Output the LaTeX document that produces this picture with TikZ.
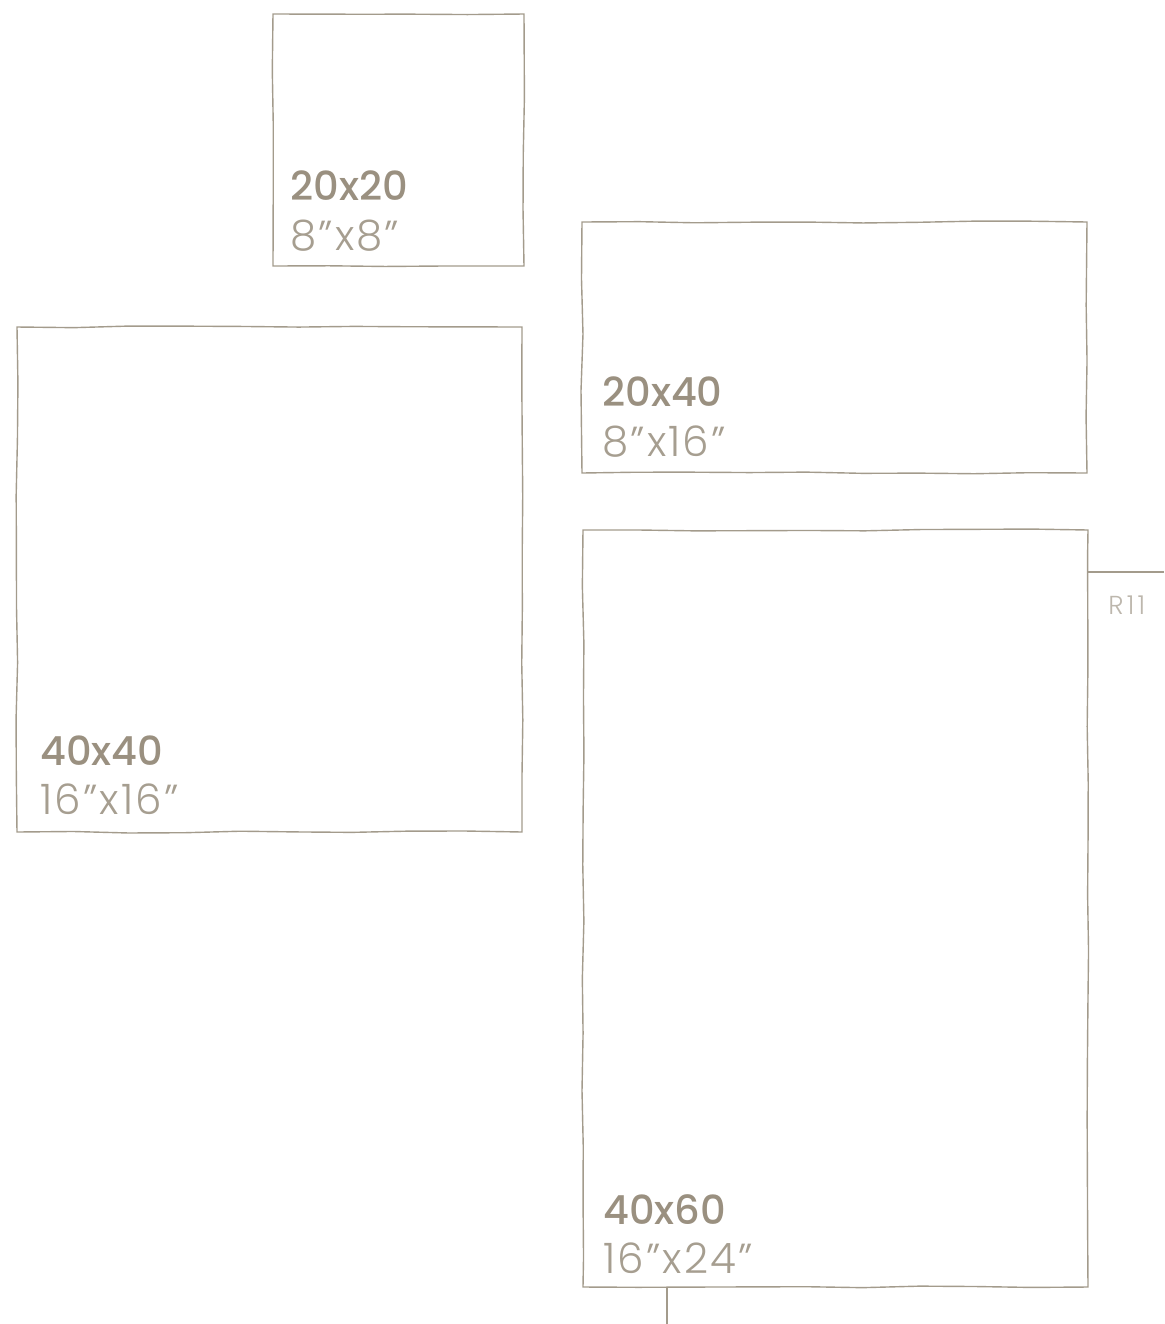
\documentclass[tikz,border=0pt]{standalone}
\usepackage{fontspec}
\setmainfont{Poppins}
\newfontfamily\sizefont{Poppins Medium}
\newfontfamily\inchfont{Poppins Light}[LetterSpace=5]
\newfontfamily\codefont{Poppins Light}[LetterSpace=12]
\usepackage{tikz}
\usetikzlibrary{positioning, calc, decorations.pathmorphing}
\definecolor{frameline}{HTML}{A39B8C}
\definecolor{sizetext}{HTML}{9A9080}
\definecolor{inchtext}{HTML}{A69E90}
\definecolor{codetext}{HTML}{BDB7AD}
\tikzset{
  frame/.style    = {draw=frameline, line width=0.7pt, outer sep=0pt, inner sep=0pt,
                     anchor=north west, decorate,
                     decoration={random steps, segment length=28pt, amplitude=0.5pt}},
  sizelabel/.style = {font=\sizefont\fontsize{20}{20}\selectfont, text=sizetext,
                     anchor=base west, inner sep=0pt},
  inchlabel/.style = {font=\inchfont\fontsize{21}{21}\selectfont, text=inchtext,
                     anchor=base west, inner sep=0pt},
  codelabel/.style = {font=\codefont\fontsize{13}{13}\selectfont, text=codetext,
                     anchor=base west, inner sep=0pt},
  tick/.style     = {draw=frameline, line width=0.6pt},
}
\pgfmathsetseed{7}
\begin{document}
\begin{tikzpicture}[x=0.5pt, y=-0.5pt]
  \useasboundingbox (0,0) rectangle (1164,1324);
  % frames
  \node[frame, minimum width=125.5pt, minimum height=126pt] (sq20) at (273,14) {};
  \node[frame, minimum width=252.5pt, minimum height=125.5pt] (rect2040) at (582,222) {};
  \node[frame, minimum width=252.5pt, minimum height=252.5pt] (sq40) at (17,327) {};
  \node[frame, minimum width=252.5pt, minimum height=378.5pt] (rect4060) at (583,530) {};
  % sizes
  \node[sizelabel] (t2020) at (290,200) {20x20};
  \node[inchlabel] (i2020) at (290,250) {8”x8”};
  \node[sizelabel] (t2040) at (602,406) {20x40};
  \node[inchlabel] (i2040) at (602,456) {8”x16”};
  \node[sizelabel] (t4040) at (40,765) {40x40};
  \node[inchlabel] (i4040) at (40,814) {16”x16”};
  \node[sizelabel] (t4060) at (603,1224) {40x60};
  \node[inchlabel] (i4060) at (603,1273) {16”x24”};
  % reference mark
  \coordinate (mark) at ($(rect4060.north east)+(0,-21pt)$);
  \coordinate (markend) at (1164,572);
  \draw[tick] (mark) -- (markend);
  \node[codelabel] (code) at (1108,614) {R11};
  \coordinate (foot) at (667,1324);
  \draw[tick] (rect4060.south west -| foot) -- (foot);
\end{tikzpicture}
\end{document}
